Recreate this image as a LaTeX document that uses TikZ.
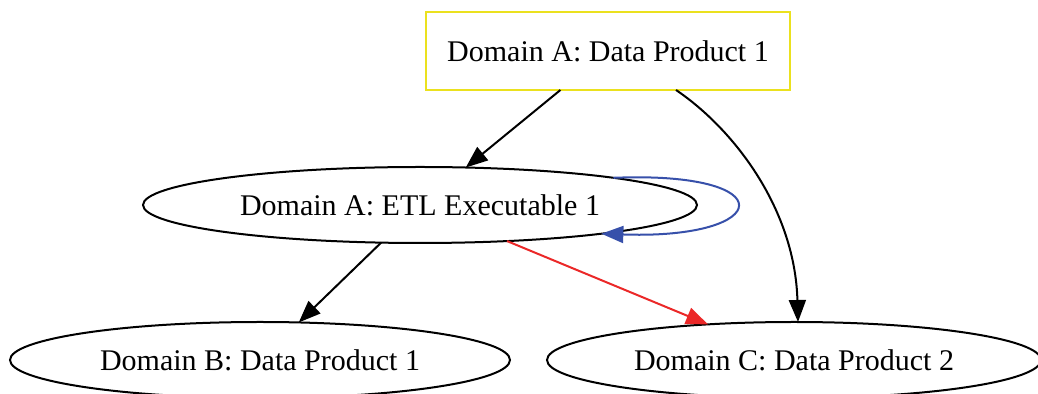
\documentclass[tikz,border=0pt]{standalone}
\usepackage{fontspec}
\setmainfont{Liberation Serif}
\usetikzlibrary{arrows.meta, shapes.geometric}
\definecolor{domyellow}{RGB}{235,225,30}
\definecolor{loopblue}{RGB}{55,80,170}
\definecolor{flowred}{RGB}{235,40,40}

\begin{document}
\begin{tikzpicture}[x=0.5pt, y=-0.5pt,
 prod/.style={draw, ellipse, line width=1pt, inner sep=0pt, outer sep=0pt, minimum height=38pt, font=\fontsize{15}{18}\selectfont},
 flow/.style={-{Triangle[length=11pt, width=8.5pt]}, line width=1pt}]
 \useasboundingbox (0,0) rectangle (1038,394);
 \node[draw=domyellow, line width=1pt, minimum width=182pt, minimum height=39pt, inner sep=0pt, outer sep=0pt, font=\fontsize{15}{18}\selectfont] (a1) at (608,51){Domain A: Data Product 1};
 \node[prod, minimum width=277pt] (etl) at (420,205){Domain A: ETL Executable 1};
 \node[prod, minimum width=250pt] (b1) at (260,360){Domain B: Data Product 1};
 \node[prod, minimum width=247pt] (c2) at (794,360){Domain C: Data Product 2};
 \draw[flow] (a1) -- (etl);
 \draw[flow] ([xshift=34pt]a1.south) .. controls +(59,40) and +(-3,-112) .. ([xshift=2pt]c2.north);
 \draw[flow] (etl) -- (b1);
 \draw[flow, color=flowred] (etl) -- (c2);
 \draw[flow, color=loopblue] (etl.8.7) .. controls +(172,-7) and +(172,6) .. (etl.-9);
\end{tikzpicture}
\end{document}
